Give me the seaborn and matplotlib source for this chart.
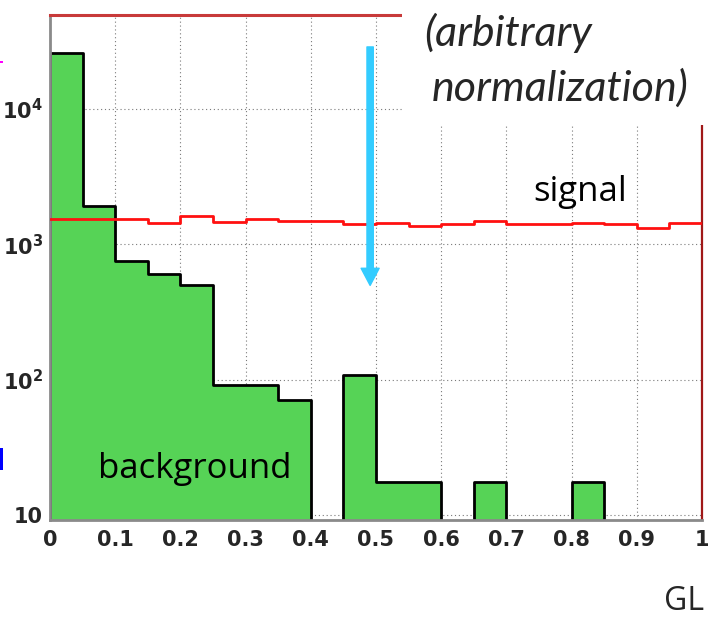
import numpy as np
import pandas as pd
import matplotlib
matplotlib.use("Agg")
import matplotlib.pyplot as plt
import seaborn as sns
from matplotlib.patches import Rectangle
from matplotlib.ticker import FixedLocator, LogLocator, NullFormatter, FixedFormatter

# ---------------- data ----------------
bin_edges = [0.00, 0.05, 0.10, 0.15, 0.20, 0.25, 0.30, 0.35, 0.40, 0.45, 0.50,
             0.55, 0.60, 0.65, 0.70, 0.75, 0.80, 0.85, 0.90, 0.95, 1.00]
background = [25900, 1910, 750, 600, 500, 92, 92, 71, 0, 109,
              17.5, 17.5, 0, 17.5, 0, 0, 17.5, 0, 0, 0]
signal = [1530, 1549, 1549, 1437, 1610, 1462, 1530, 1497, 1479, 1405,
          1447, 1366, 1405, 1486, 1405, 1405, 1437, 1405, 1320, 1447]
x_ticks = [0, 0.1, 0.2, 0.3, 0.4, 0.5, 0.6, 0.7, 0.8, 0.9, 1.0]
x_tick_labels = ["0", "0.1", "0.2", "0.3", "0.4", "0.5", "0.6", "0.7", "0.8", "0.9", "1"]
y_ticks = [10, 100, 1000, 10000]
y_tick_labels = ["10", r"$10^{2}$", r"$10^{3}$", r"$10^{4}$"]

# ---------------- style ----------------
sns.set_style("white")
plt.rcParams['font.family'] = ['Open Sans', 'DejaVu Sans']
plt.rcParams['mathtext.fontset'] = 'custom'
plt.rcParams['mathtext.rm'] = 'Liberation Sans Narrow:bold'
plt.rcParams['mathtext.bf'] = 'Liberation Sans Narrow:bold'
plt.rcParams['mathtext.it'] = 'Liberation Sans Narrow:bold'

W, H = 711, 617
fig = plt.figure(figsize=(W / 100, H / 100), dpi=100)
ax = fig.add_axes([50 / W, 1 - 520 / H, 652 / W, 505 / H])

centers = [(a + b) / 2 for a, b in zip(bin_edges[:-1], bin_edges[1:])]
df = pd.DataFrame({"GL": centers, "background": background, "signal": signal})

green = "#56d356"
sns.histplot(data=df, x="GL", weights="background", bins=bin_edges,
             element="step", fill=True, color=green, alpha=1,
             edgecolor="black", linewidth=2.0, ax=ax, zorder=2)
sns.histplot(data=df, x="GL", weights="signal", bins=bin_edges,
             element="step", fill=False, color="#ff1010", alpha=1,
             linewidth=2.0, ax=ax, zorder=3)

ax.set_yscale("log")
ax.set_xlim(0, 1)
ax.set_ylim(9.2, 49400)
ax.set_xlabel("")
ax.set_ylabel("")

# grid (dotted, behind fill)
for xv in x_ticks[1:-1]:
    ax.axvline(xv, color="#7a7a7a", lw=0.8, ls=(0, (1, 2.5)), zorder=0.5)
for yv in y_ticks:
    ax.axhline(yv, color="#7a7a7a", lw=0.8, ls=(0, (1, 2.5)), zorder=0.5)

# ticks
tick_font = dict(family=['Liberation Sans Narrow', 'DejaVu Sans'], weight='bold', size=15)
ax.xaxis.set_major_locator(FixedLocator(x_ticks))
ax.xaxis.set_major_formatter(FixedFormatter(x_tick_labels))
ax.xaxis.set_minor_locator(FixedLocator(np.arange(0, 1.001, 0.02)))
ax.yaxis.set_major_locator(FixedLocator(y_ticks))
ax.yaxis.set_major_formatter(FixedFormatter(y_tick_labels))
ax.yaxis.set_minor_locator(LogLocator(base=10, subs=np.arange(2, 10)))
ax.yaxis.set_minor_formatter(NullFormatter())
for lab in ax.get_xticklabels() + ax.get_yticklabels():
    lab.set_fontproperties(matplotlib.font_manager.FontProperties(**tick_font))
ax.tick_params(which="both", direction="in", color="#222222", width=1.4,
               top=False, right=False)
ax.tick_params(axis="y", which="major", length=13, pad=5)
ax.tick_params(axis="y", which="minor", length=6.5)
ax.tick_params(axis="x", which="major", length=11, pad=7)
ax.tick_params(axis="x", which="minor", length=5.5)

# spines
ax.spines["left"].set_color("#8a8a8a")
ax.spines["left"].set_linewidth(2)
ax.spines["bottom"].set_color("#8a8a8a")
ax.spines["bottom"].set_linewidth(2)
ax.spines["top"].set_color("#c83a3a")
ax.spines["top"].set_linewidth(2.2)
ax.spines["right"].set_color("#a01818")
ax.spines["right"].set_linewidth(1.6)
for s in ax.spines.values():
    s.set_visible(True)

# arrow
ax.annotate("", xy=(0.491, 497), xytext=(0.491, 28700),
            arrowprops=dict(arrowstyle="simple,head_length=0.95,head_width=1.0,tail_width=0.35",
                            mutation_scale=13, color="#33ccff", shrinkA=0, shrinkB=0),
            zorder=5)

# white box behind annotation text
fig.patches.append(Rectangle((402 / W, 1 - 125 / H), 1, 1, transform=fig.transFigure,
                             facecolor="white", edgecolor="none", zorder=10))

it_font = dict(family=['Lato', 'Open Sans', 'DejaVu Sans'], style='italic', size=31)
fig.text(424 / W, 1 - 46 / H, "(arbitrary", va="baseline", ha="left", zorder=11, **it_font)
fig.text(432 / W, 1 - 101 / H, "normalization)", va="baseline", ha="left", zorder=11, **it_font)

lab_font = dict(family=['Open Sans', 'DejaVu Sans'], size=25, color="black")
fig.text(533 / W, 1 - 201 / H, "signal", va="baseline", ha="left", zorder=11, **lab_font)
fig.text(98 / W, 1 - 478 / H, "background", va="baseline", ha="left", zorder=11, **lab_font)
fig.text(704 / W, 1 - 610 / H, "GL", va="baseline", ha="right", zorder=11,
         family=['Open Sans', 'DejaVu Sans'], size=23)

# edge artifacts from the cropped slide
fig.patches.append(Rectangle((0, 1 - 63 / H), 3 / W, 1.5 / H, transform=fig.transFigure,
                             facecolor="magenta", edgecolor="none", zorder=10))
fig.patches.append(Rectangle((0, 1 - 470 / H), 2.5 / W, 22 / H, transform=fig.transFigure,
                             facecolor="blue", edgecolor="none", zorder=10))

fig.savefig("out.png", dpi=100)
